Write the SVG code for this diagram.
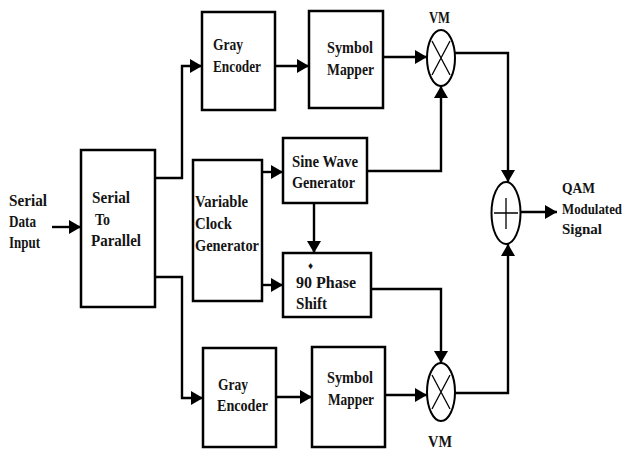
<svg xmlns="http://www.w3.org/2000/svg" width="627" height="453" viewBox="0 0 627 453">
<style>
.box{fill:#fff;stroke:#000;stroke-width:2.5}
.op{fill:#fff;stroke:#000;stroke-width:2}
.sym{stroke:#000;stroke-width:1.3;fill:none}
.c{fill:none;stroke:#000;stroke-width:2.4}
.t{font-family:'Liberation Serif','DejaVu Serif','Times New Roman',serif;font-weight:bold;font-size:16px;fill:#141414}
</style>
<defs>
<marker id="ah" viewBox="0 0 12 14" refX="12" refY="7" markerWidth="12" markerHeight="14" markerUnits="userSpaceOnUse" orient="auto">
<path d="M0,0 L12,7 L0,14 Z" fill="#000"/>
</marker>
</defs>
<rect width="627" height="453" fill="#fff"/>

<g id="input-label" class="t">
<text x="9" y="206" textLength="38" lengthAdjust="spacingAndGlyphs">Serial</text>
<text x="9" y="227" textLength="27" lengthAdjust="spacingAndGlyphs">Data</text>
<text x="9" y="248" textLength="31" lengthAdjust="spacingAndGlyphs">Input</text>
</g>

<g id="s2p" class="t">
<rect class="box" x="81" y="150" width="74" height="157"/>
<text x="92" y="203" textLength="38" lengthAdjust="spacingAndGlyphs">Serial</text>
<text x="95" y="225" textLength="15" lengthAdjust="spacingAndGlyphs">To</text>
<text x="91" y="246" textLength="50" lengthAdjust="spacingAndGlyphs">Parallel</text>
</g>

<g id="gray-top" class="t">
<rect class="box" x="202" y="12" width="73" height="98"/>
<text x="213" y="50" textLength="30" lengthAdjust="spacingAndGlyphs">Gray</text>
<text x="213" y="72" textLength="48" lengthAdjust="spacingAndGlyphs">Encoder</text>
</g>

<g id="mapper-top" class="t">
<rect class="box" x="309" y="11" width="74" height="97"/>
<text x="327" y="53" textLength="46" lengthAdjust="spacingAndGlyphs">Symbol</text>
<text x="327" y="75" textLength="47" lengthAdjust="spacingAndGlyphs">Mapper</text>
</g>

<g id="vm-top" class="t">
<ellipse class="op" cx="441" cy="58" rx="14" ry="28"/>
<path class="sym" d="M432,41 L450,75 M450,41 L432,75"/>
<text x="429" y="23" textLength="21" lengthAdjust="spacingAndGlyphs">VM</text>
</g>

<g id="clock" class="t">
<rect class="box" x="193" y="160" width="69" height="141"/>
<text x="195" y="207" textLength="53" lengthAdjust="spacingAndGlyphs">Variable</text>
<text x="195" y="229" textLength="37" lengthAdjust="spacingAndGlyphs">Clock</text>
<text x="195" y="251" textLength="64" lengthAdjust="spacingAndGlyphs">Generator</text>
</g>

<g id="sine" class="t">
<rect class="box" x="283" y="138" width="84" height="65"/>
<text x="292" y="167" textLength="66" lengthAdjust="spacingAndGlyphs">Sine Wave</text>
<text x="292" y="188" textLength="63" lengthAdjust="spacingAndGlyphs">Generator</text>
</g>

<g id="phase" class="t">
<rect class="box" x="283" y="253" width="88" height="64"/>
<text x="308" y="269" style="font-size:10px">♦</text>
<text x="296" y="288" textLength="60" lengthAdjust="spacingAndGlyphs">90  Phase</text>
<text x="296" y="309" textLength="31" lengthAdjust="spacingAndGlyphs">Shift</text>
</g>

<g id="gray-bottom" class="t">
<rect class="box" x="203" y="348" width="73" height="99"/>
<text x="218" y="390" textLength="30" lengthAdjust="spacingAndGlyphs">Gray</text>
<text x="217" y="411" textLength="51" lengthAdjust="spacingAndGlyphs">Encoder</text>
</g>

<g id="mapper-bottom" class="t">
<rect class="box" x="312" y="347" width="73" height="100"/>
<text x="327" y="383" textLength="46" lengthAdjust="spacingAndGlyphs">Symbol</text>
<text x="328" y="405" textLength="46" lengthAdjust="spacingAndGlyphs">Mapper</text>
</g>

<g id="vm-bottom" class="t">
<ellipse class="op" cx="441" cy="392" rx="14" ry="29"/>
<path class="sym" d="M432,375 L450,409 M450,375 L432,409"/>
<text x="428" y="447" textLength="24" lengthAdjust="spacingAndGlyphs">VM</text>
</g>

<g id="sum">
<ellipse class="op" cx="506" cy="213" rx="14.5" ry="31"/>
<path class="sym" d="M506,198 V229 M494,213 H518"/>
</g>

<g id="output-label" class="t" style="font-size:14px">
<text x="562" y="193" textLength="33" lengthAdjust="spacingAndGlyphs">QAM</text>
<text x="562" y="214" textLength="60" lengthAdjust="spacingAndGlyphs">Modulated</text>
<text x="562" y="234" textLength="40" lengthAdjust="spacingAndGlyphs">Signal</text>
</g>

<g id="connectors">
<path class="c" d="M52,227 H81" marker-end="url(#ah)"/>
<path class="c" d="M155,178 H182 V66 H202" marker-end="url(#ah)"/>
<path class="c" d="M155,277 H182 V398 H203" marker-end="url(#ah)"/>
<path class="c" d="M275,66 H309" marker-end="url(#ah)"/>
<path class="c" d="M383,57 H427" marker-end="url(#ah)"/>
<path class="c" d="M262,172 H283" marker-end="url(#ah)"/>
<path class="c" d="M262,285 H283" marker-end="url(#ah)"/>
<path class="c" d="M314,203 V253" marker-end="url(#ah)"/>
<path class="c" d="M367,171 H441 V86" marker-end="url(#ah)"/>
<path class="c" d="M371,289 H441 V363" marker-end="url(#ah)"/>
<path class="c" d="M276,397 H312" marker-end="url(#ah)"/>
<path class="c" d="M385,395 H427" marker-end="url(#ah)"/>
<path class="c" d="M455,53 H508 V182" marker-end="url(#ah)"/>
<path class="c" d="M455,393 H508 V244" marker-end="url(#ah)"/>
<path class="c" d="M521,212 H557" marker-end="url(#ah)"/>
</g>
</svg>
